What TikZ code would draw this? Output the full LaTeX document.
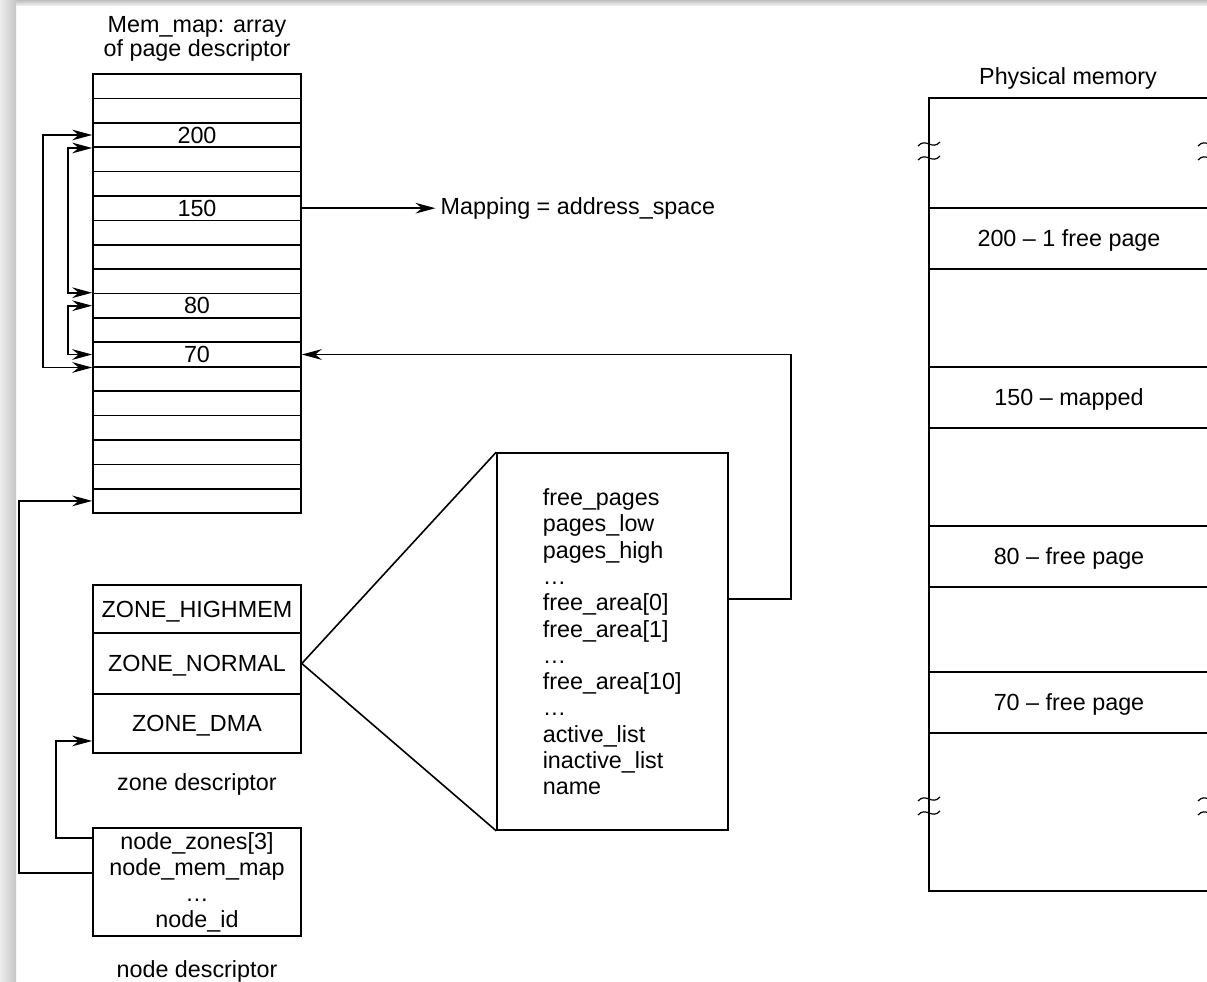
\documentclass[tikz,border=0pt]{standalone}
\usepackage{fontspec}
\setmainfont{Liberation Sans}
\usetikzlibrary{arrows.meta}

\begin{document}
\begin{tikzpicture}[x=0.75pt,y=-0.75pt,line width=1.2pt,
  >={Stealth[length=15pt,width=8pt]},
  every node/.style={font={\fontsize{17.5}{19.7}\selectfont}},
  cell/.style={draw,minimum width=156pt,minimum height=18.29pt,inner sep=0pt},
  zcell/.style={draw,minimum width=156pt,inner sep=0pt,text depth=0pt},
  pcell/.style={draw,minimum width=210pt,inner sep=0pt,text depth=0pt},
  squig/.pic={\draw[line width=0.9pt] (-11,-5) .. controls (-3,-14) and (3,0) .. (11,-9)
                                      (-11,9) .. controls (-3,0) and (3,14) .. (11,5);}]
\useasboundingbox (0,0) rectangle (1207,982);
\clip (0,0) rectangle (1207,982);
% frame shadow
\shade[left color=gray!15,right color=gray!45] (0,0) rectangle (16,982);
\shade[top color=gray!50,bottom color=gray!15] (16,0) rectangle (1207,5);

% mem_map array
\node[align=center,font={\fontsize{17.5}{18}\selectfont}] (memlbl) at (197,39) {Mem\_map: array\\of page descriptor};
\node[cell] (r0) at (197,86.2) {};
\node[cell] (r1) at (197,110.6) {};
\node[cell] (r2) at (197,135.0) {200};
\node[cell] (r3) at (197,159.4) {};
\node[cell] (r4) at (197,183.8) {};
\node[cell] (r5) at (197,208.2) {150};
\node[cell] (r6) at (197,232.5) {};
\node[cell] (r7) at (197,256.9) {};
\node[cell] (r8) at (197,281.3) {};
\node[cell] (r9) at (197,305.7) {80};
\node[cell] (r10) at (197,330.1) {};
\node[cell] (r11) at (197,354.5) {70};
\node[cell] (r12) at (197,378.9) {};
\node[cell] (r13) at (197,403.3) {};
\node[cell] (r14) at (197,427.7) {};
\node[cell] (r15) at (197,452.1) {};
\node[cell] (r16) at (197,476.5) {};
\node[cell] (r17) at (197,500.9) {};

% free list links
\draw[<->] (r2.west) -- ++(-49,0) |- (r11.south west);
\draw[<->] (r2.south west) -- ++(-24,0) |- (r9.north west);
\draw[<->] (r9.west) -- ++(-24,0) |- (r11.west);

% mapping
\node[anchor=west] (map) at (435.5,208.2) {Mapping = address\_space};
\draw[->] (r5.east) -- (map.west);

% zone descriptor
\node[zcell,minimum height=36pt] (zhigh) at (197,609) {ZONE\_HIGHMEM};
\node[zcell,minimum height=45.75pt] (znorm) at (197,663.5) {ZONE\_NORMAL};
\node[zcell,minimum height=44.25pt] (zdma) at (197,723.5) {ZONE\_DMA};
\node (zlbl) at (197,784) {zone descriptor};

% zone fields
\node[draw,minimum width=173.25pt,minimum height=282.75pt] (zbox) at (612.5,641.5) {};
\node[anchor=north west,align=left,inner sep=0pt] (zfields) at (542,488) {free\_pages\\pages\_low\\pages\_high\\…\\free\_area[0]\\free\_area[1]\\…\\free\_area[10]\\…\\active\_list\\inactive\_list\\name};
\draw (zbox.north west) -- (znorm.east) -- (zbox.south west);
\draw[->] ([yshift=31.9pt]zbox.east) -- ++(62,0) |- (r11.east);

% node descriptor
\node[draw,minimum width=156pt,minimum height=81pt,align=center,font={\fontsize{17.5}{19.5}\selectfont}] (nd) at (197,882) {node\_zones[3]\\node\_mem\_map\\…\\node\_id};
\node (ndlbl) at (197,971) {node descriptor};
\draw[->] ([yshift=33pt]nd.west) -- ++(-36,0) |- ([yshift=-13.1pt]zdma.west);
\draw[->] ([yshift=6.75pt]nd.west) -- ++(-73,0) |- (r17.west);

% physical memory
\node (physlbl) at (1068,78) {Physical memory};
\node[pcell,minimum height=82.5pt] (p0) at (1069,153) {};
\node[pcell,minimum height=45.75pt] (p1) at (1069,238.5) {200 -- 1 free page};
\node[pcell,minimum height=73.5pt] (p2) at (1069,318) {};
\node[pcell,minimum height=45.75pt] (p3) at (1069,397.5) {150 -- mapped};
\node[pcell,minimum height=73.5pt] (p4) at (1069,477) {};
\node[pcell,minimum height=45.75pt] (p5) at (1069,556.5) {80 -- free page};
\node[pcell,minimum height=63.75pt] (p6) at (1069,629.5) {};
\node[pcell,minimum height=45.75pt] (p7) at (1069,702.5) {70 -- free page};
\node[pcell,minimum height=118.5pt] (p8) at (1069,812) {};
\pic at (929,151) {squig};
\pic at (1209,151) {squig};
\pic at (929,806) {squig};
\pic at (1209,806) {squig};
\end{tikzpicture}
\end{document}
